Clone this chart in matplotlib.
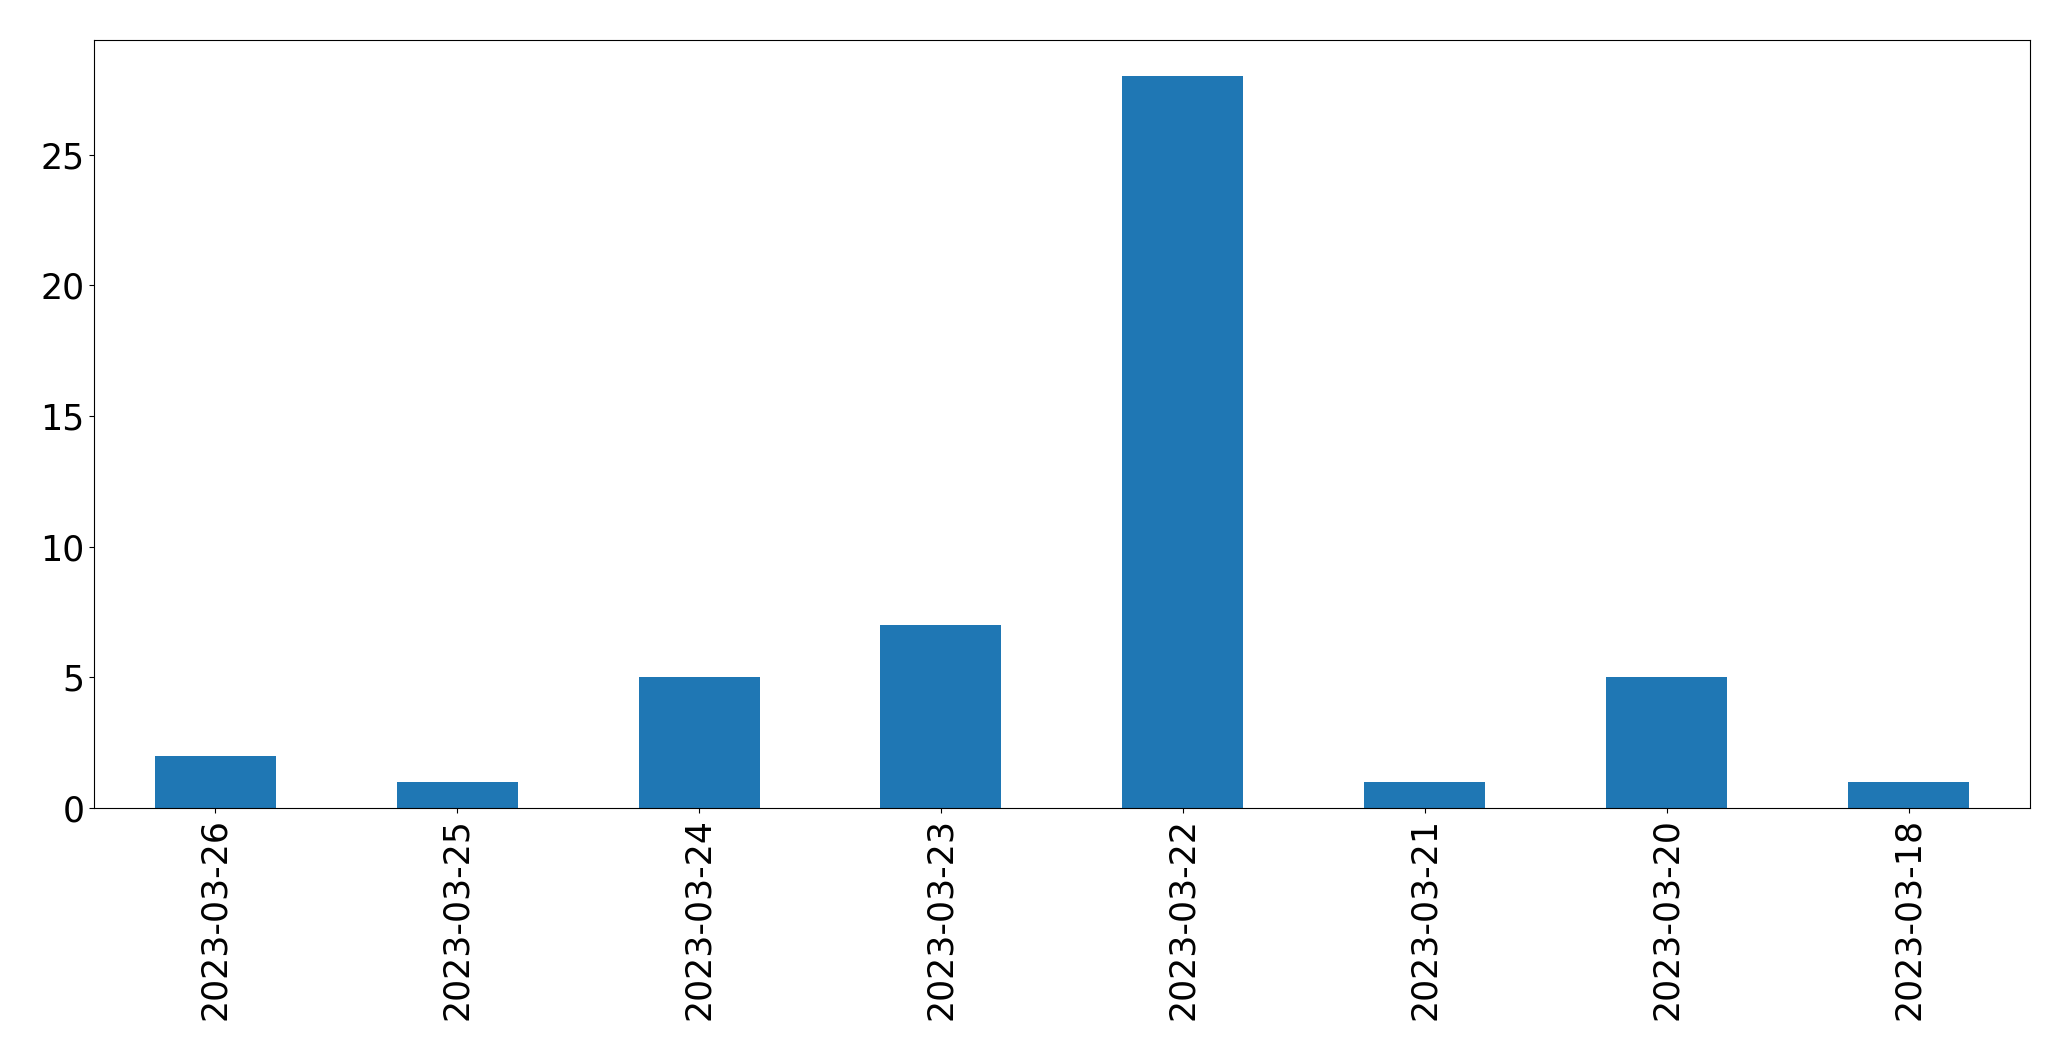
import matplotlib
matplotlib.use("Agg")
import matplotlib.pyplot as plt
import pandas as pd

dates = ["2023-03-26", "2023-03-25", "2023-03-24", "2023-03-23",
         "2023-03-22", "2023-03-21", "2023-03-20", "2023-03-18"]
counts = [2, 1, 5, 7, 28, 1, 5, 1]

s = pd.Series(counts, index=dates)

fig = plt.figure(figsize=(20.71, 10.61), dpi=100)
ax = fig.add_axes([0.0455, 0.2385, 0.9345, 0.7240])
s.plot(kind="bar", ax=ax, color="#1f77b4", fontsize=25)
ax.tick_params(axis="both", labelsize=25)
fig.savefig("out.png", dpi=100)
